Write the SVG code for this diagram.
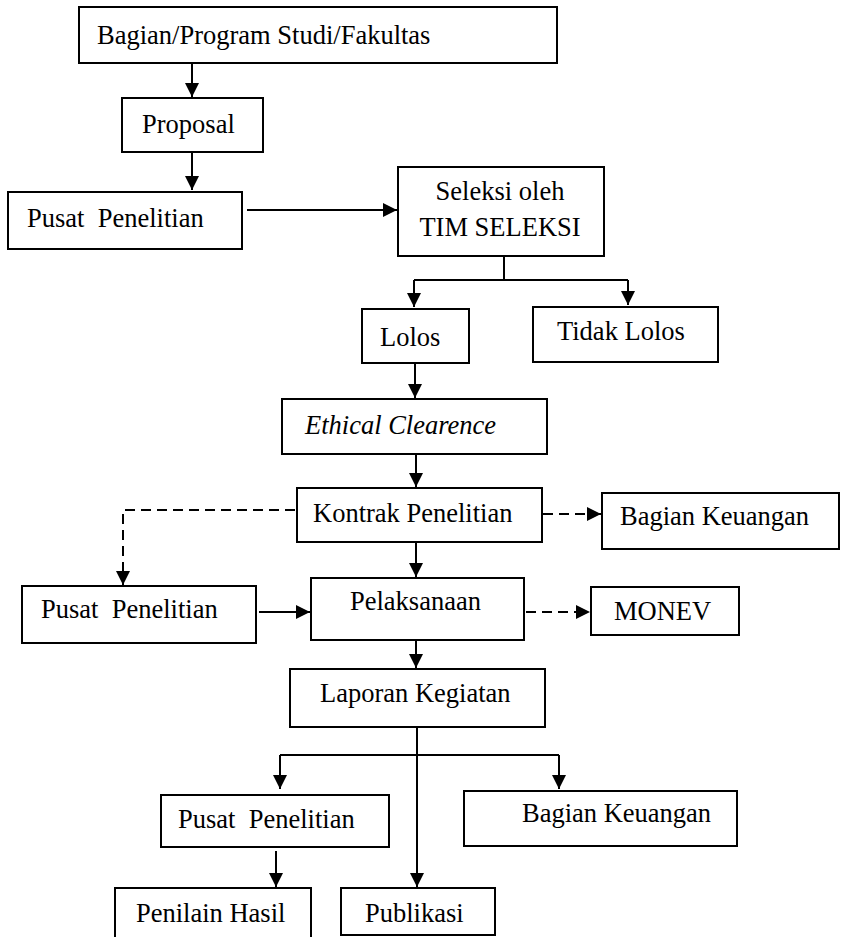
<svg xmlns="http://www.w3.org/2000/svg" width="841" height="937" viewBox="0 0 841 937">
<style>
.box{fill:#fff;stroke:#000;stroke-width:2}
.t{font-family:"Liberation Serif","Times New Roman",serif;font-size:26.5px;fill:#000;white-space:pre}
.c{fill:none;stroke:#000;stroke-width:2}
.d{stroke-dasharray:10 6}
</style>
<defs>
<marker id="ah" markerUnits="userSpaceOnUse" markerWidth="14" markerHeight="14" refX="14" refY="7" orient="auto">
<path d="M0,0 L14,7 L0,14 z" fill="#000"/>
</marker>
</defs>
<rect width="841" height="937" fill="#fff"/>
<g id="connectors">
<path class="c" d="M192,63 V97" marker-end="url(#ah)"/>
<path class="c" d="M192,152 V190" marker-end="url(#ah)"/>
<path class="c" d="M247,210 H397" marker-end="url(#ah)"/>
<path class="c" d="M504,256 V280 M414,280 H628"/>
<path class="c" d="M414,280 V307" marker-end="url(#ah)"/>
<path class="c" d="M628,280 V305" marker-end="url(#ah)"/>
<path class="c" d="M415,363 V398" marker-end="url(#ah)"/>
<path class="c" d="M416,454 V487" marker-end="url(#ah)"/>
<path class="c d" d="M543,514 H601" marker-end="url(#ah)"/>
<path class="c d" d="M295,510 H123 V585" marker-end="url(#ah)"/>
<path class="c" d="M416,542 V577" marker-end="url(#ah)"/>
<path class="c" d="M259,612 H310" marker-end="url(#ah)"/>
<path class="c d" d="M526,612 H590" marker-end="url(#ah)"/>
<path class="c" d="M416,640 V668" marker-end="url(#ah)"/>
<path class="c" d="M417,727 V887" marker-end="url(#ah)"/>
<path class="c" d="M280,755 H559"/>
<path class="c" d="M280,755 V789" marker-end="url(#ah)"/>
<path class="c" d="M559,755 V789" marker-end="url(#ah)"/>
<path class="c" d="M276,851 V887" marker-end="url(#ah)"/>
</g>
<g id="n-bagian"><rect class="box" x="79" y="7" width="478" height="56"/><text class="t" x="97" y="44">Bagian/Program Studi/Fakultas</text></g>
<g id="n-proposal"><rect class="box" x="122" y="98" width="141" height="54"/><text class="t" x="142" y="133">Proposal</text></g>
<g id="n-pusat1"><rect class="box" x="8" y="192" width="234" height="57"/><text class="t" x="27" y="227">Pusat  Penelitian</text></g>
<g id="n-seleksi"><rect class="box" x="398" y="167" width="206" height="89"/><text class="t" x="500" y="200" text-anchor="middle">Seleksi oleh</text><text class="t" x="500" y="236" text-anchor="middle">TIM SELEKSI</text></g>
<g id="n-lolos"><rect class="box" x="362" y="309" width="107" height="54"/><text class="t" x="380" y="346">Lolos</text></g>
<g id="n-tidak"><rect class="box" x="533" y="307" width="185" height="55"/><text class="t" x="557" y="340">Tidak Lolos</text></g>
<g id="n-ethical"><rect class="box" x="282" y="399" width="265" height="55"/><text class="t" x="305" y="434" font-style="italic">Ethical Clearence</text></g>
<g id="n-kontrak"><rect class="box" x="297" y="488" width="245" height="54"/><text class="t" x="313" y="522">Kontrak Penelitian</text></g>
<g id="n-keuangan1"><rect class="box" x="602" y="493" width="237" height="56"/><text class="t" x="620" y="525">Bagian Keuangan</text></g>
<g id="n-pusat2"><rect class="box" x="22" y="586" width="234" height="57"/><text class="t" x="41" y="618">Pusat  Penelitian</text></g>
<g id="n-pelaksanaan"><rect class="box" x="311" y="578" width="213" height="62"/><text class="t" x="350" y="610">Pelaksanaan</text></g>
<g id="n-monev"><rect class="box" x="591" y="587" width="148" height="48"/><text class="t" x="614" y="620">MONEV</text></g>
<g id="n-laporan"><rect class="box" x="290" y="669" width="255" height="58"/><text class="t" x="320" y="702">Laporan Kegiatan</text></g>
<g id="n-pusat3"><rect class="box" x="161" y="795" width="228" height="52"/><text class="t" x="178" y="828">Pusat  Penelitian</text></g>
<g id="n-keuangan2"><rect class="box" x="464" y="791" width="273" height="55"/><text class="t" x="522" y="822">Bagian Keuangan</text></g>
<g id="n-penilain"><rect class="box" x="115" y="888" width="196" height="60"/><text class="t" x="136" y="922">Penilain Hasil</text></g>
<g id="n-publikasi"><rect class="box" x="341" y="888" width="154" height="47"/><text class="t" x="365" y="922">Publikasi</text></g>
</svg>
